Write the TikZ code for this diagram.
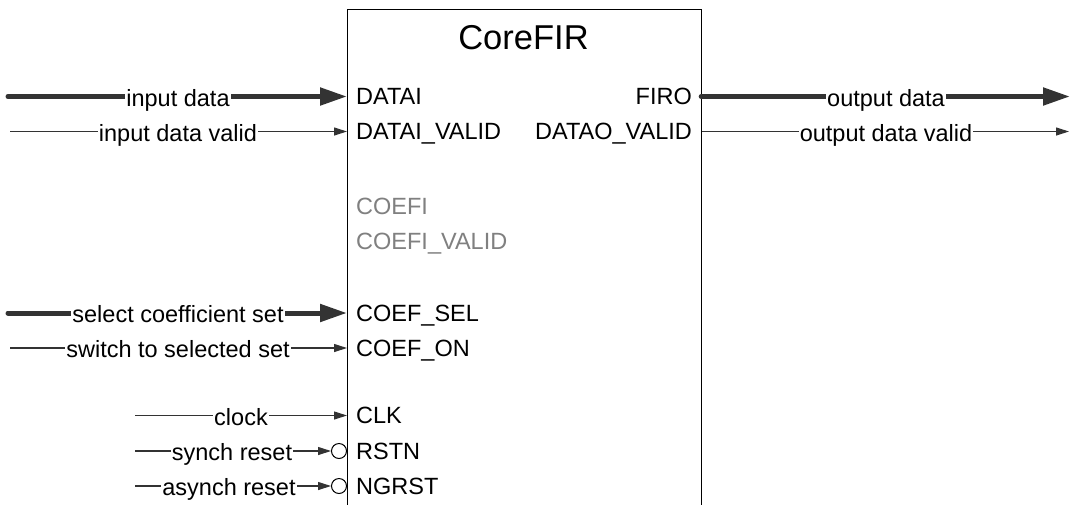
\documentclass[tikz,border=0pt]{standalone}
\usepackage{fontspec}
\setmainfont{Liberation Sans}
\usetikzlibrary{arrows.meta}
\definecolor{ln}{HTML}{333333}
\definecolor{gr}{HTML}{808080}
\tikzset{
  lbl/.style={fill=white,inner xsep=1pt,inner ysep=0pt,font=\fontsize{23.5}{27}\selectfont,text=black,text height=19pt,text depth=0pt},
  pinL/.style={anchor=west,inner sep=0pt,font=\fontsize{23.5}{27}\selectfont,text height=16.9pt,text depth=0pt},
  pinR/.style={anchor=east,inner sep=0pt,font=\fontsize{23.5}{27}\selectfont,text height=16.9pt,text depth=0pt},
  bus/.style={draw=ln,line width=5pt,line cap=round,-{Triangle[length=27pt,width=17pt]}},
  sig/.style={draw=ln,line width=1.1pt,-{Triangle[length=13pt,width=8pt]}},
  bubble/.style={circle,draw=black,line width=1pt,minimum size=15pt,inner sep=0pt}
}
\begin{document}
\begin{tikzpicture}[x=1pt,y=-1pt]
\useasboundingbox (0,0) rectangle (1070,504);
\clip (0,0) rectangle (1070,504);
\fill[white] (0,0) rectangle (1070,504);
% core block
\node (core) [draw=black,line width=1.2pt,minimum width=354pt,minimum height=540pt,anchor=north west,inner sep=0pt] at (347,9) {};
\node (title) at (523.5,38) {\fontsize{34.5}{40}\selectfont CoreFIR};
% pins
\node (datai) [pinL] at (356,96.5) {DATAI};
\node (dataiv) [pinL] at (356,131.5) {DATAI\_VALID};
\node (coefi) [pinL,text=gr] at (356,206) {COEFI};
\node (coefiv) [pinL,text=gr] at (356,241) {COEFI\_VALID};
\node (coefsel) [pinL] at (356,313) {COEF\_SEL};
\node (coefon) [pinL] at (356,348) {COEF\_ON};
\node (clk) [pinL] at (356,415.5) {CLK};
\node (rstn) [pinL] at (356,451) {RSTN};
\node (ngrst) [pinL] at (356,486) {NGRST};
\node (firo) [pinR] at (692,96.5) {FIRO};
\node (datao) [pinR] at (692,131.5) {DATAO\_VALID};
% sources and sinks
\coordinate (s1) at (8,96.5);
\coordinate (s2) at (10,131.5);
\coordinate (s3) at (8,313);
\coordinate (s4) at (10,348);
\coordinate (s5) at (135,415.5);
\coordinate (s6) at (135,451);
\coordinate (s7) at (135,486);
\coordinate (o1) at (1070,96.5);
\coordinate (o2) at (1069,131.5);
\node (b1) [bubble,anchor=east] at (core.west |- rstn) {};
\node (b2) [bubble,anchor=east] at (core.west |- ngrst) {};
% connectors
\draw[bus] (s1) -- (core.west |- datai);
\draw[sig] (s2) -- (core.west |- dataiv);
\draw[bus] (s3) -- (core.west |- coefsel);
\draw[sig] (s4) -- (core.west |- coefon);
\draw[sig] (s5) -- (core.west |- clk);
\draw[sig] (s6) -- (b1.west);
\draw[sig] (s7) -- (b2.west);
\draw[bus] (core.east |- firo) ++(-1,0) -- (o1);
\draw[sig] (core.east |- datao) -- (o2);
% labels
\node[lbl] (l1) at (178,96.5) {input data};
\node[lbl] (l2) at (178,131.5) {input data valid};
\node[lbl] (l3) at (178,313) {select coefficient set};
\node[lbl] (l4) at (178,348) {switch to selected set};
\node[lbl] (l5) at (241,415.5) {clock};
\node[lbl] (l6) at (232,451) {synch reset};
\node[lbl] (l7) at (229,486) {asynch reset};
\node[lbl] (l8) at (886,96.5) {output data};
\node[lbl] (l9) at (886,131.5) {output data valid};
\end{tikzpicture}
\end{document}
